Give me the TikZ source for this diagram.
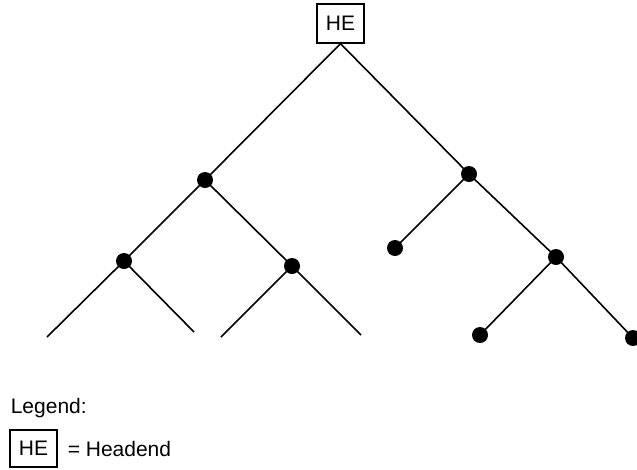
\documentclass[tikz,border=0pt]{standalone}
\usepackage{fontspec}
\setmainfont{Liberation Sans}
\begin{document}
\begin{tikzpicture}[x=1pt,y=-1pt,line width=1.6pt,
  tap/.style={circle,fill=black,inner sep=0pt,minimum size=16pt},
  headbox/.style={draw,line width=1.3pt,inner sep=0pt,minimum width=47pt,minimum height=39pt,font=\fontsize{21}{24}\selectfont},
  lbl/.style={inner sep=0pt,font=\fontsize{21}{24}\selectfont}]
  \useasboundingbox (0,0) rectangle (637,469);
  % headend
  \node[headbox] (he) at (340.5,23.5) {HE};
  % taps
  \node[tap] (n1) at (205,180) {};
  \node[tap] (n2) at (469,174) {};
  \node[tap] (n11) at (124,261) {};
  \node[tap] (n12) at (292,266) {};
  \node[tap] (n21) at (395,248) {};
  \node[tap] (n22) at (556,257) {};
  \node[tap] (n221) at (480,335) {};
  \node[tap] (n222) at (633,338) {};
  % open ends
  \coordinate (e111) at (47,337);
  \coordinate (e112) at (194,332);
  \coordinate (e121) at (221,337);
  \coordinate (e122) at (361,335);
  % tree
  \draw (he.south) -- (n1.center);
  \draw (he.south) -- (n2.center);
  \draw (n1.center) -- (n11.center);
  \draw (n1.center) -- (n12.center);
  \draw (n11.center) -- (e111);
  \draw (n11.center) -- (e112);
  \draw (n12.center) -- (e121);
  \draw (n12.center) -- (e122);
  \draw (n2.center) -- (n21.center);
  \draw (n2.center) -- (n22.center);
  \draw (n22.center) -- (n221.center);
  \draw (n22.center) -- (n222.center);
  % legend
  \node[lbl,anchor=base west] (legend) at (10,413) {Legend:};
  \node[headbox,minimum height=37pt] (key) at (33.5,448.5) {HE};
  \node[lbl,anchor=west] (keytext) at (67,448.5) {= Headend};
\end{tikzpicture}
\end{document}
